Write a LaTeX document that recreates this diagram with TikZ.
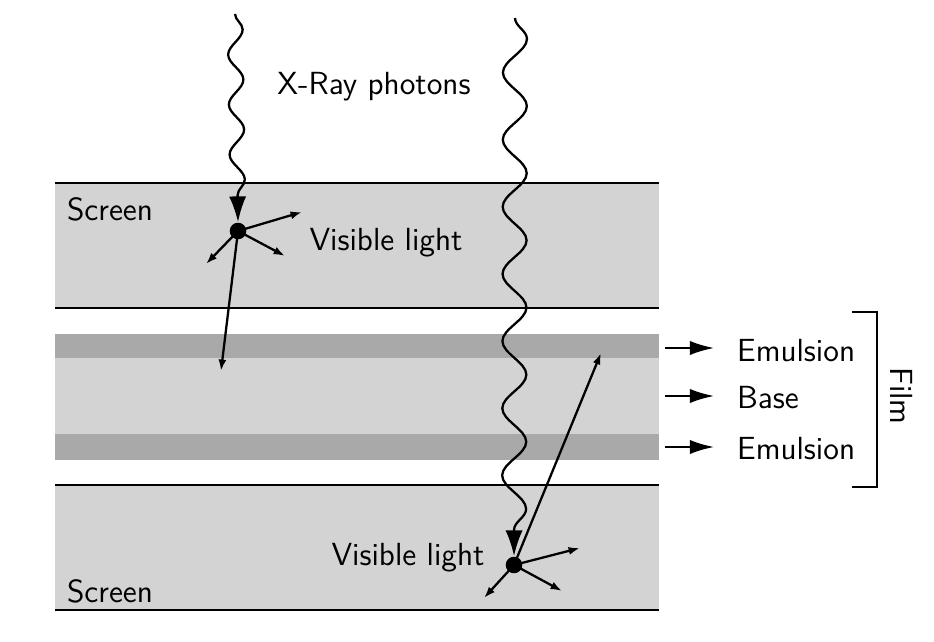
\documentclass[tikz,border=0pt]{standalone}
\usetikzlibrary{arrows.meta,decorations.pathmorphing}
\begin{document}
\begin{tikzpicture}[x=0.35pt,y=-0.35pt,
  every node/.style={font=\sffamily\fontsize{11.2}{13}\selectfont},
  lightband/.style={fill={rgb,255:red,211;green,211;blue,211}},
  darkband/.style={fill={rgb,255:red,169;green,169;blue,169}},
  edge/.style={line width=0.8pt},
  dot/.style={circle,fill=black,inner sep=0pt,minimum size=5.8pt},
  ray/.style={line width=0.8pt,-{Latex[length=4pt,width=2.8pt]}},
  xray/.style={line width=0.8pt,-{Latex[length=9pt,width=6pt]},decorate,
    decoration={snake,amplitude=#1,segment length=17.5pt,post length=9pt}},
  xray/.default=2.6pt,
  pointer/.style={line width=0.8pt,shorten >=4.5pt,-{Latex[length=8.5pt,width=5pt]}}]
\useasboundingbox (0,0) rectangle (934,642);
% bands
\fill[lightband] (55,183) rectangle (659,308);
\fill[darkband] (55,334) rectangle (659,358);
\fill[lightband] (55,358) rectangle (659,434);
\fill[darkband] (55,434) rectangle (659,460);
\fill[lightband] (55,485) rectangle (659,610);
\draw[edge] (55,183) -- (659,183);
\draw[edge] (55,308) -- (659,308);
\draw[edge] (55,485) -- (659,485);
\draw[edge] (55,610) -- (659,610);
% labels
\node (scr1) at (110,209) {Screen};
\node (scr2) at (110,591) {Screen};
\node (xr) at (374,87) {X-Ray photons};
\node (vl1) at (386,243) {Visible light};
\node (vl2) at (408,558) {Visible light};
% dots
\node[dot] (d1) at (238,231) {};
\node[dot] (d2) at (514,565) {};
% x-rays
\coordinate (s1) at (235,14);
\coordinate (s2) at (515,18);
\draw[xray=2.6pt] (s1) -- (d1.north);
\draw[xray=4.2pt,decoration={segment length=23.5pt}] (s2) -- (d2.north);
% top scatter
\coordinate (a1) at (302,212);
\coordinate (a2) at (285,256);
\coordinate (a3) at (206,264);
\coordinate (a4) at (221,371);
\foreach \t in {a1,a2,a3,a4} \draw[ray] (d1.center) -- (\t);
% bottom scatter
\coordinate (b1) at (580,548);
\coordinate (b2) at (562,591);
\coordinate (b3) at (484,598);
\coordinate (b4) at (601,353);
\foreach \t in {b1,b2,b3,b4} \draw[ray] (d2.center) -- (\t);
% right labels
\node[anchor=west] (em1) at (727,351) {Emulsion};
\node[anchor=west] (base) at (727,398) {Base};
\node[anchor=west] (em2) at (727,449) {Emulsion};
\coordinate (p1) at (665,348);
\coordinate (p2) at (665,396);
\coordinate (p3) at (665,447);
\draw[pointer] (p1) -- (em1.west |- p1);
\draw[pointer] (p2) -- (base.west |- p2);
\draw[pointer] (p3) -- (em2.west |- p3);
% bracket
\coordinate (k1) at (852,312);
\coordinate (k2) at (877,312);
\coordinate (k3) at (877,487);
\coordinate (k4) at (852,487);
\draw[edge] (k1) -- (k2) -- (k3) -- (k4);
\node[rotate=-90] (film) at (902,396) {Film};
\end{tikzpicture}
\end{document}
